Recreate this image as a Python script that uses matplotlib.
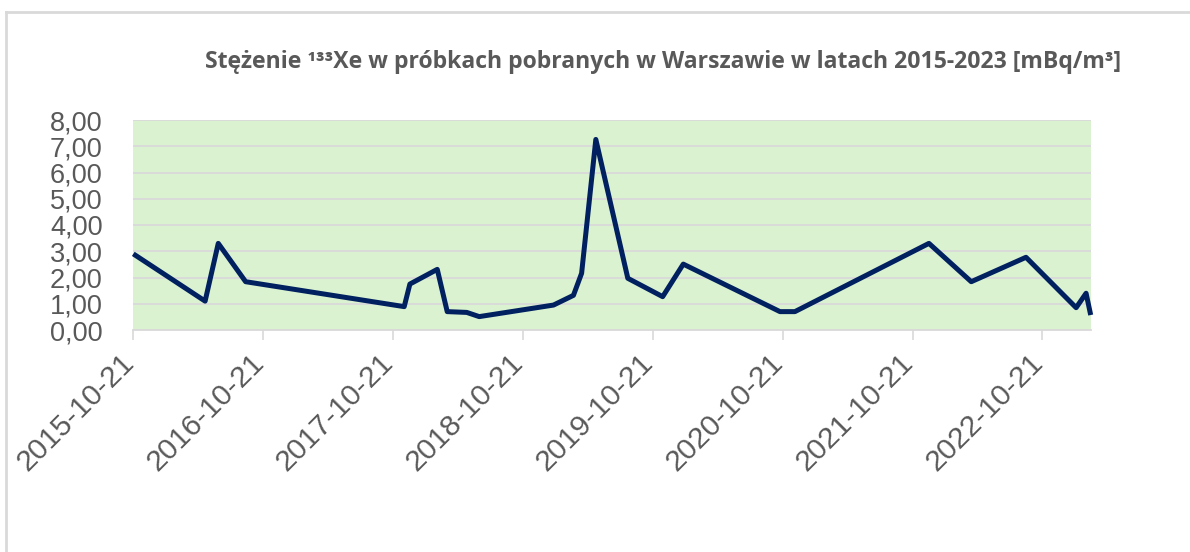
import matplotlib
matplotlib.use("Agg")
import matplotlib.pyplot as plt
import matplotlib.transforms as mtransforms
from datetime import date

# ---- data ----
dates = [
    "2015-10-21", "2016-05-10", "2016-06-16", "2016-09-01", "2017-11-21",
    "2017-12-07", "2018-02-22", "2018-03-22", "2018-05-16", "2018-06-20",
    "2019-01-15", "2019-03-12", "2019-04-04", "2019-05-14", "2019-08-12",
    "2019-11-18", "2020-01-15", "2020-10-13", "2020-11-24", "2021-12-06",
    "2022-04-04", "2022-09-05", "2023-01-24", "2023-02-21", "2023-03-06",
]
values = [
    2.90, 1.10, 3.30, 1.84, 0.89,
    1.75, 2.31, 0.70, 0.67, 0.51,
    0.95, 1.32, 2.16, 7.26, 1.97,
    1.27, 2.51, 0.70, 0.70, 3.30,
    1.84, 2.77, 0.85, 1.40, 0.57,
]
tick_dates = [
    "2015-10-21", "2016-10-21", "2017-10-21", "2018-10-21",
    "2019-10-21", "2020-10-21", "2021-10-21", "2022-10-21",
]
y_ticks = [0, 1, 2, 3, 4, 5, 6, 7, 8]
title = "Stężenie ¹³³Xe w próbkach pobranych w Warszawie w latach 2015-2023 [mBq/m³]"

# ---- style ----
GRAY_TXT = "#595959"
GRID = "#D9D9D9"
FILL = "#DAF2D0"
LINE = "#002060"

x = [date.fromisoformat(d) for d in dates]
xt = [date.fromisoformat(d) for d in tick_dates]

fig = plt.figure(figsize=(11.9, 5.52), dpi=100)
ax = fig.add_axes([133.3 / 1190, 1 - 330 / 552, (1090.7 - 133.3) / 1190, 210 / 552])
ax.set_facecolor(FILL)

ax.plot(x, values, color=LINE, linewidth=3.6, solid_joinstyle="round",
        solid_capstyle="butt", zorder=3, clip_on=False)

ax.set_xlim(x[0], x[-1])
ax.set_ylim(0, 8)

ax.set_yticks(y_ticks)
ax.set_yticklabels([f"{v:.2f}".replace(".", ",") for v in y_ticks],
                   fontsize=19.5, color=GRAY_TXT, family="Liberation Sans")
ax.tick_params(axis="y", length=0, pad=22)
ax.yaxis.grid(True, color=GRID, linewidth=1.3, zorder=1)
ax.set_axisbelow(True)

ax.set_xticks(xt)
ax.set_xticklabels(tick_dates, rotation=45, ha="right", va="top",
                   fontsize=21.5, color=GRAY_TXT, family="Liberation Sans")
ax.tick_params(axis="x", length=7.5, width=1.2, color=GRID, pad=6)
shift = mtransforms.ScaledTranslation(6 / 100, 0, fig.dpi_scale_trans)
for lab in ax.get_xticklabels():
    lab.set_transform(lab.get_transform() + shift)

for s in ["left", "right", "top"]:
    ax.spines[s].set_visible(False)
ax.spines["bottom"].set_color(GRID)
ax.spines["bottom"].set_linewidth(1.3)

fig.text(663 / 1190, 1 - 62 / 552, title, ha="center", va="center",
         fontsize=16.6, fontweight="bold", color=GRAY_TXT, family="Open Sans")

# outer chart border (left and top visible)
fig.add_artist(plt.Line2D([6 / 1190, 6 / 1190], [0, 1 - 12 / 552],
                          transform=fig.transFigure, color=GRID, linewidth=2))
fig.add_artist(plt.Line2D([6 / 1190, 1], [1 - 12 / 552, 1 - 12 / 552],
                          transform=fig.transFigure, color=GRID, linewidth=2))

fig.savefig("out.png", dpi=100, facecolor="white")
